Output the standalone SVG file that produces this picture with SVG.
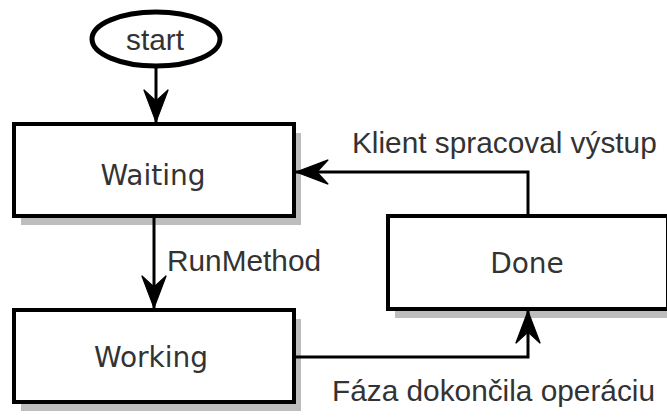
<svg xmlns="http://www.w3.org/2000/svg" width="667" height="417" viewBox="0 0 667 417">
  <style>
    .box { fill: #ffffff; stroke: #000000; stroke-width: 4; }
    .shadow { fill: #bdbdbd; stroke: none; }
    .node-text { font-family: "DejaVu Sans", Verdana, sans-serif; font-size: 28px; fill: #333333; text-anchor: middle; }
    .edge { fill: none; stroke: #000000; stroke-width: 3; }
    .label { font-family: "Liberation Sans", Arial, sans-serif; font-size: 29.8px; fill: #333333; }
  </style>
  <defs>
    <marker id="arrow" markerUnits="userSpaceOnUse" markerWidth="40" markerHeight="40" viewBox="-32 -16 36 32" refX="0" refY="0" orient="auto">
      <path d="M0,0 L-29,-11 L-19,0 L-29,11 Z" fill="#000000" stroke="#000000" stroke-width="1"/>
    </marker>
  </defs>
  <rect width="667" height="417" fill="#ffffff"/>

  <g id="start">
    <ellipse cx="156" cy="39" rx="64" ry="27" fill="#ffffff" stroke="#000000" stroke-width="5"/>
    <text x="155" y="50" class="label" text-anchor="middle" font-size="28">start</text>
  </g>

  <g id="waiting">
    <rect class="shadow" x="21" y="133" width="280" height="92"/>
    <rect class="box" x="14" y="124" width="280" height="92"/>
    <text x="153" y="185" class="node-text">Waiting</text>
  </g>

  <g id="working">
    <rect class="shadow" x="21" y="319" width="280" height="92"/>
    <rect class="box" x="14" y="310" width="280" height="92"/>
    <text x="151" y="367" class="node-text">Working</text>
  </g>

  <g id="done">
    <rect class="shadow" x="395" y="225" width="280" height="93"/>
    <rect class="box" x="388" y="216" width="280" height="93"/>
    <text x="527" y="273" class="node-text">Done</text>
  </g>

  <g id="connectors">
    <path class="edge" d="M156,66 L156,122" marker-end="url(#arrow)"/>
    <path class="edge" d="M154,218 L154,308" marker-end="url(#arrow)"/>
    <path class="edge" d="M528,214 L528,172 L296,172" marker-end="url(#arrow)"/>
    <path class="edge" d="M296,357 L528,357 L528,311" marker-end="url(#arrow)"/>
    <text x="167" y="271" class="label">RunMethod</text>
    <text x="352" y="153" class="label">Klient spracoval výstup</text>
    <text x="332" y="401" class="label">Fáza dokončila operáciu</text>
  </g>
</svg>
